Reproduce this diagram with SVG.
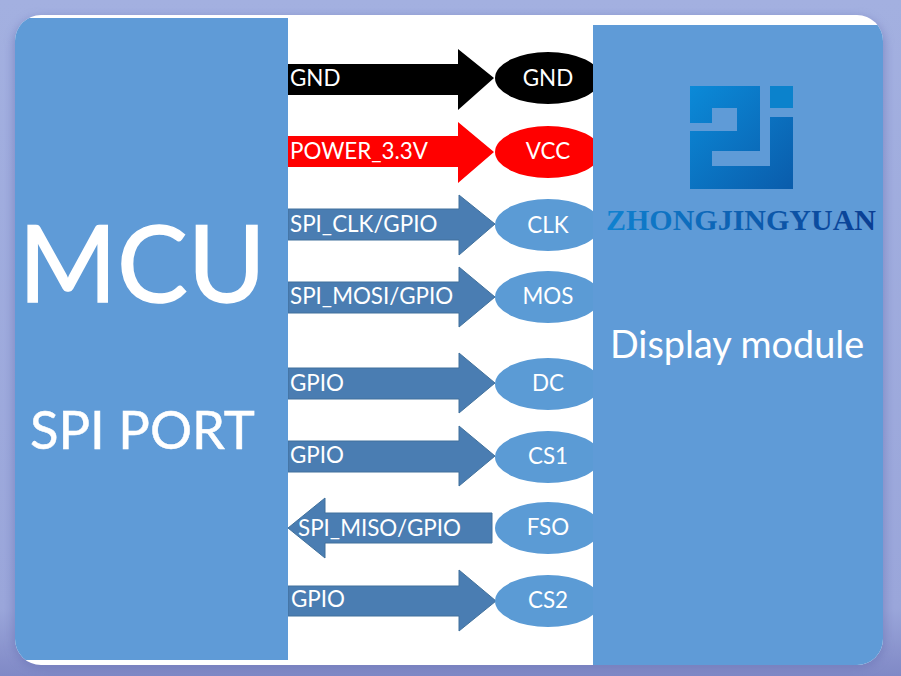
<svg xmlns="http://www.w3.org/2000/svg" width="901" height="676" viewBox="0 0 901 676">
<style>
.t{font-family:"Lato","Carlito","Open Sans",sans-serif;fill:#fff}
.l{font-size:22.4px}
.n{font-size:22.4px;text-anchor:middle}
.a{fill:#4a7db2;stroke:#41719c;stroke-width:1}
.e{fill:#5b9bd5}
.p{fill:#5f9bd7}
</style>
<defs>
<linearGradient id="bg" x1="0" y1="0" x2="0" y2="1">
<stop offset="0" stop-color="#a3b0e0"/><stop offset="0.9" stop-color="#9aa6da"/><stop offset="1" stop-color="#8089c6"/>
</linearGradient>
<linearGradient id="logo" x1="0" y1="0" x2="1" y2="1">
<stop offset="0" stop-color="#0b8ad8"/><stop offset="1" stop-color="#0a5cab"/>
</linearGradient>
<linearGradient id="word" x1="0" y1="0" x2="1" y2="0">
<stop offset="0" stop-color="#0f82d0"/><stop offset="1" stop-color="#0a3d92"/>
</linearGradient>
<filter id="soft" x="-10%" y="-10%" width="120%" height="120%"><feGaussianBlur stdDeviation="5"/></filter>
<clipPath id="card"><rect x="15" y="15" width="868" height="650" rx="26"/></clipPath>
</defs>
<rect width="901" height="676" fill="url(#bg)"/>
<rect x="13" y="17" width="872" height="652" rx="28" fill="#6a73b4" opacity="0.55" filter="url(#soft)"/>
<rect x="15" y="15" width="868" height="650" rx="26" fill="#fff"/>

<g id="connectors">
<polygon points="288,64 458,64 458,49 494,78 458,110 458,95 288,95" fill="#000"/>
<polygon points="288,136 458,136 458,122 494,152 458,183 458,167 288,167" fill="#f00"/>
<polygon class="a" points="288,209 459,209 459,195 495,224 459,255 459,240 288,240"/>
<polygon class="a" points="288,282 459,282 459,267 495,297 459,327 459,313 288,313"/>
<polygon class="a" points="288,368 459,368 459,353 495,383 459,413 459,399 288,399"/>
<polygon class="a" points="288,441 459,441 459,426 495,456 459,486 459,472 288,472"/>
<polygon class="a" points="492,513 325,513 325,498 288,528 325,558 325,543 492,543"/>
<polygon class="a" points="288,586 459,586 459,570 496,601 459,631 459,616 288,616"/>
<text class="t l" x="290" y="86">GND</text>
<text class="t l" x="290" y="159">POWER_3.3V</text>
<text class="t l" x="290" y="232">SPI_CLK/GPIO</text>
<text class="t l" x="290" y="304">SPI_MOSI/GPIO</text>
<text class="t l" x="290" y="391">GPIO</text>
<text class="t l" x="290" y="463">GPIO</text>
<text class="t l" x="298" y="536">SPI_MISO/GPIO</text>
<text class="t l" x="291" y="607">GPIO</text>
</g>

<g id="node-gnd"><ellipse cx="548" cy="78" rx="53" ry="26" fill="#000"/><text class="t n" x="548" y="85.5">GND</text></g>
<g id="node-vcc"><ellipse cx="548" cy="152" rx="53" ry="26" fill="#f00"/><text class="t n" x="548" y="158.5">VCC</text></g>
<g id="node-clk"><ellipse class="e" cx="548" cy="225" rx="53" ry="26"/><text class="t n" x="548" y="232.5">CLK</text></g>
<g id="node-mos"><ellipse class="e" cx="548" cy="297" rx="53" ry="26"/><text class="t n" x="548" y="303.5">MOS</text></g>
<g id="node-dc"><ellipse class="e" cx="548" cy="384" rx="53" ry="26"/><text class="t n" x="548" y="390.5">DC</text></g>
<g id="node-cs1"><ellipse class="e" cx="548" cy="457" rx="53" ry="26"/><text class="t n" x="548" y="463.5">CS1</text></g>
<g id="node-fso"><ellipse class="e" cx="548" cy="528" rx="53" ry="26"/><text class="t n" x="548" y="534.5">FSO</text></g>
<g id="node-cs2"><ellipse class="e" cx="548" cy="601" rx="53" ry="26"/><text class="t n" x="548" y="607.5">CS2</text></g>

<g id="mcu">
<g clip-path="url(#card)"><rect class="p" x="15" y="18" width="273" height="642"/></g>
<text class="t" x="18.5" y="302" font-size="106" stroke="#fff" stroke-width="1.5">MCU</text>
<text class="t" x="30" y="449" font-size="52.6" stroke="#fff" stroke-width="0.5">SPI PORT</text>
</g>

<g id="display">
<g clip-path="url(#card)"><rect class="p" x="593" y="25" width="290" height="640"/></g>
<path d="M690 86H760V151H712V166H770V117H793V189H690V131H737V108H712V123H690Z" fill="url(#logo)"/>
<rect x="770" y="86" width="23" height="22" fill="#0b82cc"/>
<text x="606" y="230" font-family="'Liberation Serif',serif" font-weight="700" font-size="30" fill="url(#word)">ZHONGJINGYUAN</text>
<text class="t" x="610" y="358" font-size="37.8">Display module</text>
</g>
</svg>
